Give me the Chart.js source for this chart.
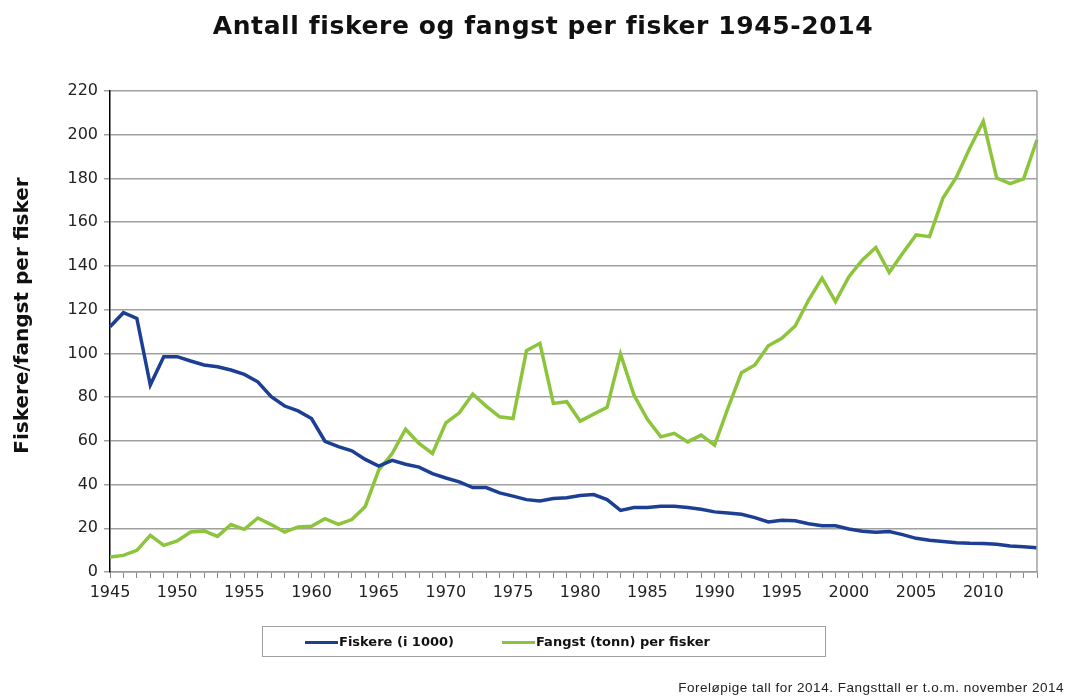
<!DOCTYPE html>
<html>
<head>
<meta charset="utf-8">
<script src="https://cdn.jsdelivr.net/npm/chart.js@4"></script>
<style>
  body { margin: 0; background: #fff; }
  #wrap { position: relative; width: 1069px; height: 696px; }
  #title {
    position: absolute; left: 0; top: 11px; width: 1086px; text-align: center;
    font: bold 25px "DejaVu Sans", sans-serif; letter-spacing: 0.6px; color: #111;
  }
  #legend {
    position: absolute; left: 262px; top: 626px; width: 562px; height: 29px;
    border: 1px solid #a0a0a0; font: bold 13px "DejaVu Sans", sans-serif; color: #111;
  }
  .item { position: absolute; top: 7px; white-space: nowrap; }
  .swatch { display: inline-block; width: 33px; height: 3px; vertical-align: middle; margin-right: 1px; }
  #note {
    position: absolute; right: 5px; top: 680px;
    font: 13.5px "Liberation Sans", Arial, sans-serif; letter-spacing: 0.5px; color: #222;
  }
</style>
</head>
<body>
<div id="wrap">
  <canvas id="chart" width="1069" height="696"></canvas>
  <div id="title">Antall fiskere og fangst per fisker 1945-2014</div>
  <div id="legend"></div>
  <div id="note">Foreløpige tall for 2014. Fangsttall er t.o.m. november 2014</div>
</div>
<script>
const years = [];
for (let y = 1945; y <= 2014; y++) years.push(String(y));

// Fiskere (i 1000)
const fiskere = [
  112.2, 118.6, 116.0, 85.5, 98.5, 98.5, 96.5, 94.7, 93.9, 92.4,
  90.4, 87.0, 80.2, 75.9, 73.7, 70.2, 59.8, 57.3, 55.4, 51.5,
  48.4, 51.1, 49.3, 48.0, 45.0, 43.0, 41.2, 38.6, 38.6, 36.2,
  34.7, 33.1, 32.5, 33.6, 34.0, 35.0, 35.4, 33.1, 28.2, 29.5,
  29.5, 30.1, 30.1, 29.5, 28.7, 27.5, 27.0, 26.4, 24.9, 22.9,
  23.7, 23.4, 22.1, 21.2, 21.1, 19.7, 18.6, 18.2, 18.5, 17.1,
  15.4, 14.5, 13.9, 13.4, 13.1, 13.0, 12.7, 11.9, 11.5, 11.1
];

// Fangst (tonn) per fisker
const fangst = [
  6.9, 7.6, 9.9, 16.8, 12.2, 14.2, 18.3, 18.8, 16.3, 21.7,
  19.5, 24.7, 21.7, 18.3, 20.6, 20.9, 24.4, 21.8, 24.0, 30.0,
  46.6, 54.2, 65.3, 58.8, 54.2, 68.2, 72.8, 81.4, 75.9, 71.0,
  70.2, 101.2, 104.6, 77.1, 77.9, 69.0, 72.2, 75.3, 99.7, 80.9,
  69.8, 61.8, 63.4, 59.5, 62.6, 58.0, 75.0, 91.1, 94.7, 103.5,
  106.9, 112.5, 124.4, 134.4, 123.7, 135.1, 142.7, 148.4, 137.0, 145.8,
  154.2, 153.4, 171.0, 180.6, 193.9, 206.1, 180.2, 177.6, 179.8, 197.7
];

const seriesNames = ["Fiskere (i 1000)", "Fangst (tonn) per fisker"];
const seriesColors = ["#1c3f94", "#8cc43c"];
const yTitle = "Fiskere/fangst per fisker";

// right frame line and the rotated y title (sits a bit above the axis middle)
const frame = {
  id: "frame",
  afterDraw(chart) {
    const { ctx, chartArea } = chart;
    ctx.save();
    ctx.strokeStyle = "#a0a0a0";
    ctx.lineWidth = 1.5;
    ctx.beginPath();
    ctx.moveTo(chartArea.right, chartArea.top);
    ctx.lineTo(chartArea.right, chartArea.bottom);
    ctx.stroke();

    ctx.translate(23, (chartArea.top + chartArea.bottom) / 2 - 16);
    ctx.rotate(-Math.PI / 2);
    ctx.font = "bold 20px 'DejaVu Sans'";
    ctx.fillStyle = "#111";
    ctx.textAlign = "center";
    ctx.textBaseline = "middle";
    ctx.fillText(yTitle, 0, 0);
    ctx.restore();
  }
};

new Chart(document.getElementById("chart"), {
  type: "line",
  data: {
    labels: years,
    datasets: [
      { label: seriesNames[0], data: fiskere, borderColor: seriesColors[0], borderWidth: 3.5 },
      { label: seriesNames[1], data: fangst, borderColor: seriesColors[1], borderWidth: 3.5 }
    ]
  },
  options: {
    responsive: false,
    animation: false,
    pointRadius: 0,
    tension: 0,
    layout: { padding: { top: 91, right: 32 } },
    plugins: {
      legend: { display: false },
      tooltip: { enabled: false },
      title: { display: false }
    },
    scales: {
      x: {
        offset: false,
        afterFit(scale) { scale.height = 124; },
        grid: { drawOnChartArea: false, tickLength: 6, color: "#888" },
        border: { color: "#999", width: 1.5 },
        ticks: {
          autoSkip: false, maxRotation: 0, padding: 5,
          color: "#222", font: { family: "DejaVu Sans", size: 16 },
          callback(v) { const y = Number(this.getLabelForValue(v)); return y % 5 === 0 ? String(y) : ""; }
        }
      },
      y: {
        min: 0, max: 220,
        afterFit(scale) { scale.width = 110; },
        grid: { color: "#a0a0a0", lineWidth: 1.5, tickLength: 6 },
        border: { color: "#000", width: 1.5 },
        ticks: { stepSize: 20, padding: 6, color: "#222", font: { family: "DejaVu Sans", size: 16 } }
      }
    }
  },
  plugins: [frame]
});

// HTML legend in a bordered box
const legend = document.getElementById("legend");
const itemLeft = [42, 239];
seriesNames.forEach((name, i) => {
  const item = document.createElement("span");
  item.className = "item";
  item.style.left = itemLeft[i] + "px";
  item.innerHTML = '<span class="swatch" style="background:' + seriesColors[i] + '"></span>' + name;
  legend.appendChild(item);
});
</script>
</body>
</html>
